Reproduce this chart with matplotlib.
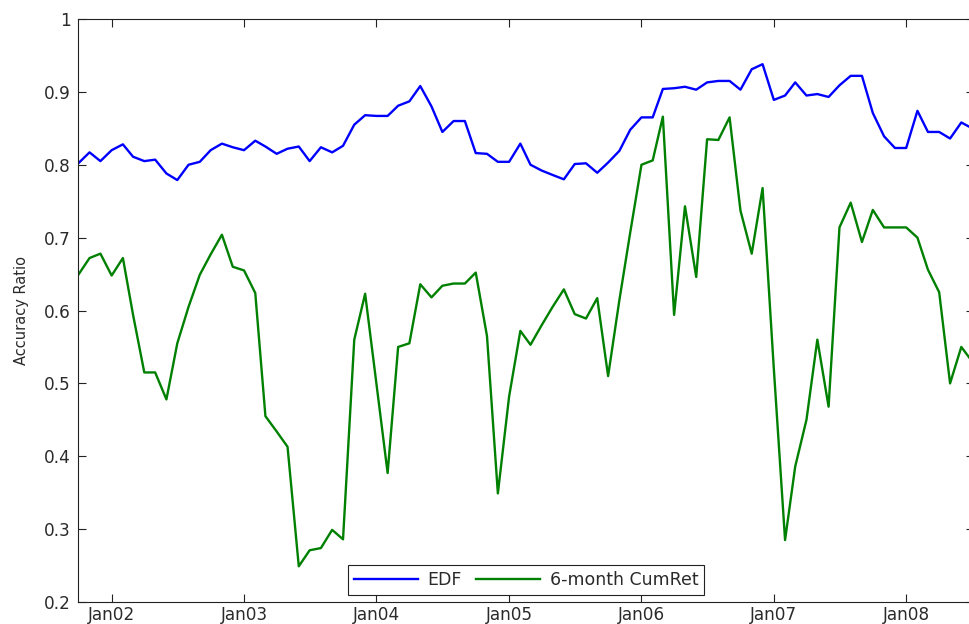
import numpy as np
import pandas as pd
import matplotlib
matplotlib.use('Agg')
import matplotlib.pyplot as plt
import matplotlib.dates as mdates

# monthly observations, Oct 2001 - Jul 2008
dates = pd.date_range('2001-10-01', periods=82, freq='MS')

edf = [0.802, 0.817, 0.805, 0.820, 0.828, 0.811, 0.805, 0.807, 0.788, 0.779,
       0.800, 0.804, 0.820, 0.829, 0.824, 0.820, 0.833, 0.825, 0.815, 0.822,
       0.825, 0.805, 0.824, 0.817, 0.826, 0.855, 0.868, 0.867, 0.867, 0.881,
       0.887, 0.908, 0.880, 0.845, 0.860, 0.860, 0.816, 0.815, 0.804, 0.804,
       0.829, 0.800, 0.792, 0.786, 0.780, 0.801, 0.802, 0.789, 0.803, 0.819,
       0.848, 0.865, 0.865, 0.904, 0.905, 0.907, 0.903, 0.913, 0.915, 0.915,
       0.903, 0.931, 0.938, 0.889, 0.895, 0.913, 0.895, 0.897, 0.893, 0.909,
       0.922, 0.922, 0.871, 0.839, 0.823, 0.823, 0.874, 0.845, 0.845, 0.836,
       0.858, 0.850]

cumret = [0.649, 0.672, 0.678, 0.648, 0.672, 0.594, 0.515, 0.515, 0.478, 0.555,
          0.605, 0.649, 0.677, 0.704, 0.660, 0.655, 0.624, 0.455, 0.434, 0.413,
          0.249, 0.271, 0.274, 0.299, 0.286, 0.560, 0.623, 0.500, 0.377, 0.550,
          0.555, 0.636, 0.618, 0.634, 0.637, 0.637, 0.652, 0.565, 0.349, 0.482,
          0.572, 0.553, 0.580, 0.605, 0.629, 0.595, 0.589, 0.617, 0.510, 0.614,
          0.707, 0.800, 0.806, 0.866, 0.594, 0.743, 0.646, 0.835, 0.834, 0.865,
          0.737, 0.678, 0.768, 0.520, 0.285, 0.386, 0.450, 0.560, 0.468, 0.714,
          0.748, 0.694, 0.738, 0.714, 0.714, 0.714, 0.700, 0.656, 0.625, 0.500,
          0.550, 0.530]

yticks = [0.2, 0.3, 0.4, 0.5, 0.6, 0.7, 0.8, 0.9, 1]
ytick_labels = ['0.2', '0.3', '0.4', '0.5', '0.6', '0.7', '0.8', '0.9', '1']

plt.rcParams['font.family'] = ['DejaVu Sans']
txt = '#2a2a2a'

fig = plt.figure(figsize=(9.69, 6.24), dpi=100)
# right edge of the axes lies just outside the picture (cropped like the original)
ax = fig.add_axes([78.3/969, 1 - 602/624, (974 - 78.3)/969, (602 - 19)/624])

ax.plot(dates, edf, color='#0000ff', lw=1.7, label='EDF')
ax.plot(dates, cumret, color='#008000', lw=1.7, label='6-month CumRet')

ax.set_xlim(pd.Timestamp('2001-10-01'), pd.Timestamp('2008-07-06'))
ax.set_ylim(0.2, 1)
ax.xaxis.set_major_locator(mdates.YearLocator(month=1, day=1))
ax.xaxis.set_major_formatter(mdates.DateFormatter('%b%y'))
ax.set_yticks(yticks)
ax.set_yticklabels(ytick_labels)

ax.tick_params(direction='in', length=5.8, width=0.8, top=True, right=True,
               labelsize=12.2, labelcolor=txt, color='#222222')
ax.tick_params(axis='y', pad=5.2)
ax.tick_params(axis='x', pad=2.6)
for s in ax.spines.values():
    s.set_linewidth(0.8)
    s.set_color('#222222')

ax.set_ylabel('Accuracy Ratio', fontsize=10.5, color=txt, labelpad=11)

leg = ax.legend(loc='lower center', ncol=2, fancybox=False, framealpha=1,
                edgecolor='#222222', fontsize=12.5, handlelength=3.7,
                handletextpad=0.55, columnspacing=0.8, borderpad=0.35,
                borderaxespad=0.4)
leg.get_frame().set_linewidth(0.8)
for t in leg.get_texts():
    t.set_color(txt)

fig.savefig('out.png', dpi=100)
